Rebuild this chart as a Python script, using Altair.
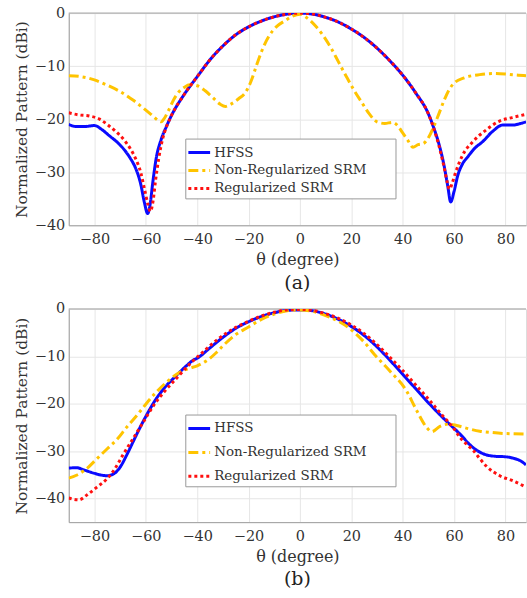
import altair as alt
import pandas as pd

SERIES = ["HFSS", "Non-Regularized SRM", "Regularized SRM"]
COLORS = ["#0a0aff", "#ffc400", "#ff1010"]
DASHES = [[1, 0], [10, 4, 3, 4], [3, 3]]
X_TICKS = [-80, -60, -40, -20, 0, 20, 40, 60, 80]
Y_TICKS = [0, -10, -20, -30, -40]

# ---------- panel (a) ----------
a_hfss_theta = [-90, -87, -84, -80, -77, -74, -71, -68, -66, -64, -62, -60.5, -59.3, -58.3, -57.3,
                -56, -54, -52, -50, -45, -40, -35, -30, -25, -20, -15, -10, -5, 0, 5, 10, 15, 20,
                25, 30, 35, 40, 45, 50, 52, 54, 56, 57.5, 58.7, 60, 61.5, 63, 65.5, 68, 71, 75,
                79, 83, 86, 88]
a_hfss_val = [-21.0, -21.4, -21.4, -21.2, -22.0, -23.2, -24.4, -26.0, -27.4, -29.2, -32.2, -35.8, -37.8, -36.0, -32.0,
              -27.5, -23.8, -21.4, -19.3, -15.3, -12.0, -8.8, -6.2, -4.1, -2.6, -1.5, -0.7, -0.2, 0.0, -0.2, -0.8, -1.7, -3.0,
              -4.6, -6.6, -9.0, -11.7, -15.0, -19.0, -21.5, -24.5, -28.5, -32.5, -35.6, -33.6, -30.5, -28.7, -27.0, -25.5, -24.3, -22.3,
              -21.1, -21.1, -20.8, -20.5]

a_nonreg_theta = [-90, -85, -80, -75, -70, -65, -60, -57, -55, -54, -53, -51, -49, -47, -45, -43, -40,
                  -37, -34, -31, -29, -27, -24, -21, -19, -17, -15, -12, -9, -6, -3, 0, 3, 6, 9, 12,
                  15, 18, 21, 24, 27, 30, 33, 36, 38, 40, 42, 44, 46, 48, 50, 52, 54, 56, 58, 60,
                  64, 70, 75, 80, 85, 88]
a_nonreg_val = [-11.8, -12.0, -12.6, -13.6, -14.8, -16.4, -18.3, -19.5, -20.3, -20.5, -20.0, -18.2, -16.2, -14.8, -14.0, -13.5, -13.7,
                -14.6, -15.9, -17.2, -17.6, -17.2, -16.2, -14.8, -12.8, -10.0, -7.3, -4.3, -2.5, -1.5, -0.6, -0.2, -1.0, -2.4, -4.2, -6.5,
                -9.2, -11.9, -14.5, -16.8, -19.0, -20.5, -20.8, -20.6, -21.2, -22.6, -24.0, -25.3, -24.8, -24.6, -23.5, -21.5, -19.1, -16.6, -14.5, -13.2,
                -12.2, -11.6, -11.4, -11.5, -11.7, -11.8]

a_reg_theta = [-90, -86, -82, -78, -75, -72, -69, -66, -64, -62, -60.5, -59.2, -58.2, -57.2, -56.2,
               -55, -53.5, -52, -50, -45, -40, -35, -30, -25, -20, -15, -10, -5, 0, 5, 10, 15, 20,
               25, 30, 35, 40, 45, 50, 52, 54, 56, 57.3, 58.2, 59.3, 60.7, 63.3, 67.2, 72.3, 77.5,
               82.6, 88]
a_reg_val = [-18.8, -19.2, -19.4, -20.0, -21.0, -22.2, -23.6, -25.6, -27.4, -30.0, -33.2, -36.0, -37.4, -35.5, -31.5,
             -27.5, -23.8, -21.5, -19.3, -15.3, -12.0, -8.8, -6.2, -4.1, -2.6, -1.5, -0.7, -0.2, 0.0, -0.2, -0.8, -1.7, -3.0,
             -4.6, -6.6, -9.0, -11.7, -15.0, -19.0, -21.6, -24.8, -28.8, -31.8, -33.2, -32.0, -29.9, -26.8, -24.3, -22.1, -20.4,
             -19.7, -19.1]

# ---------- panel (b) ----------
b_hfss_theta = [-90, -87, -84, -80, -77, -75, -72.5, -70, -67.5, -65, -62.5, -60, -56, -52, -48, -44,
                -41.5, -40, -35, -30, -25, -20, -15, -10, -5, 0, 5, 10, 15, 20, 25, 30, 35, 40, 45,
                50, 55, 58, 60, 63, 66, 69, 72, 76, 80, 83, 86, 88]
b_hfss_val = [-33.6, -33.5, -34.0, -34.7, -35.1, -35.2, -34.8, -33.4, -30.9, -28.1, -25.3, -22.7, -19.0, -16.2, -14.0, -11.9,
              -10.8, -10.4, -8.2, -6.0, -4.1, -2.7, -1.6, -0.8, -0.3, -0.2, -0.4, -1.1, -2.2, -3.7, -5.6, -8.0, -10.8, -13.8, -16.8,
              -19.8, -22.6, -24.2, -25.2, -26.8, -28.6, -29.9, -30.7, -31.1, -31.2, -31.5, -32.1, -32.9]

b_nonreg_theta = [-90, -87, -83, -79, -75, -71, -67.5, -63.5, -60, -56, -52, -48, -44, -40, -36.5,
                  -32.5, -30, -25, -20, -15, -10, -5, 0, 5, 10, 15, 20, 25, 29, 35, 41.5, 45.5,
                  49.3, 51.3, 54.5, 58, 61, 65, 70, 75, 80, 88]
b_nonreg_val = [-35.7, -35.1, -33.7, -31.6, -29.5, -27.4, -25.0, -22.5, -20.1, -17.6, -15.5, -13.8, -12.7, -12.0, -11.0,
                -9.2, -7.8, -5.4, -3.8, -2.2, -1.1, -0.4, -0.2, -0.5, -1.4, -2.6, -4.4, -7.0, -9.6, -13.1, -17.3, -21.5,
                -25.0, -25.9, -24.8, -24.3, -24.6, -25.2, -25.8, -26.1, -26.3, -26.4]

b_reg_theta = [-90, -88, -86, -83, -79, -75, -72, -69, -65, -61, -57, -53, -48, -43, -38, -31.5,
               -25, -20, -15, -10, -5, 0, 5, 10, 15, 20, 25, 30, 35, 40, 45, 50, 55, 60, 62.3,
               65, 67.5, 70, 72.6, 77.8, 83, 88]
b_reg_val = [-39.9, -40.2, -40.3, -39.3, -37.6, -35.8, -33.7, -30.9, -27.4, -23.9, -20.4, -17.6, -14.6, -11.7, -9.2, -6.2,
             -3.9, -2.6, -1.5, -0.7, -0.2, -0.1, -0.3, -1.0, -2.0, -3.4, -5.2, -7.5, -10.2, -13.0, -16.0, -19.0, -22.2, -25.3, -27.1,
             -28.6, -29.9, -31.6, -33.2, -35.2, -36.3, -37.6]


def frame(thetas, values, names):
    rows = []
    for th, vs, nm in zip(thetas, values, names):
        for t, v in zip(th, vs):
            rows.append({"theta": t, "value": v, "series": nm})
    return pd.DataFrame(rows)


df_a = frame([a_hfss_theta, a_nonreg_theta, a_reg_theta], [a_hfss_val, a_nonreg_val, a_reg_val], SERIES)
df_b = frame([b_hfss_theta, b_nonreg_theta, b_reg_theta], [b_hfss_val, b_nonreg_val, b_reg_val], SERIES)

FONT = "DejaVu Serif"
TXT = "#333333"
PAD = "\u00a0" * 6 + "\u200b"


def panel(df, ymin, label, legend_y, row_pad, height):
    legend = alt.Legend(
        title=None, orient="none", legendX=117, legendY=legend_y,
        fillColor="white", strokeColor="#9a9a9a", padding=3,
        symbolType="M-1.15,0L1.15,0", symbolSize=361, symbolStrokeWidth=3,
        labelFont=FONT, labelFontSize=13.5, labelColor=TXT, labelOffset=4,
        rowPadding=row_pad, labelLimit=300, labelExpr="datum.label + '" + PAD + "'",
    )
    xs = alt.X("theta:Q",
               scale=alt.Scale(domain=[-90, 88], nice=False, zero=False),
               axis=alt.Axis(values=X_TICKS, title="θ (degree)", grid=True, gridColor="#e6e6e6",
                             labelFont=FONT, labelFontSize=14.5, labelColor=TXT, labelPadding=7,
                             titleFont=FONT, titleFontSize=16, titleFontWeight="normal", titleColor=TXT,
                             titlePadding=6, ticks=False, domainColor="#a0a0a0"))
    ys = alt.Y("value:Q",
               scale=alt.Scale(domain=[ymin, 0], nice=False, zero=False),
               axis=alt.Axis(values=Y_TICKS, title="Normalized  Pattern (dBi)", grid=True, gridColor="#e6e6e6",
                             labelFont=FONT, labelFontSize=14.5, labelColor=TXT, labelPadding=4,
                             titleFont=FONT, titleFontSize=15.5, titleFontWeight="normal", titleColor=TXT,
                             titlePadding=5, ticks=False, domainColor="#a0a0a0"))
    lines = alt.Chart(df).mark_line(strokeWidth=3, interpolate="monotone", clip=True).encode(
        x=xs, y=ys,
        color=alt.Color("series:N", scale=alt.Scale(domain=SERIES, range=COLORS), legend=legend),
        strokeDash=alt.StrokeDash("series:N", scale=alt.Scale(domain=SERIES, range=DASHES), legend=legend),
    )
    top = alt.Chart(pd.DataFrame({"v": [0]})).mark_rule(color="#a0a0a0", strokeWidth=1).encode(
        y=alt.Y("v:Q")
    )
    return alt.layer(top, lines).properties(
        width=459, height=height,
        title=alt.TitleParams(label, orient="bottom", font=FONT, fontSize=19, fontWeight="normal",
                              color="#222222", frame="group", anchor="middle", offset=6),
    )


pa = panel(df_a, -40, "(a)", 126, 0, 213)
pb = panel(df_b, -45, "(b)", 106, 6, 214)

chart = alt.vconcat(pa, pb, spacing=7).resolve_scale(
    color="independent", strokeDash="independent"
).properties(
    padding={"left": 13, "top": 3, "right": 0, "bottom": 0}
).configure_view(stroke=None).configure(background="white")

chart.save("out.html", embed_options={"renderer": "svg", "actions": False})
